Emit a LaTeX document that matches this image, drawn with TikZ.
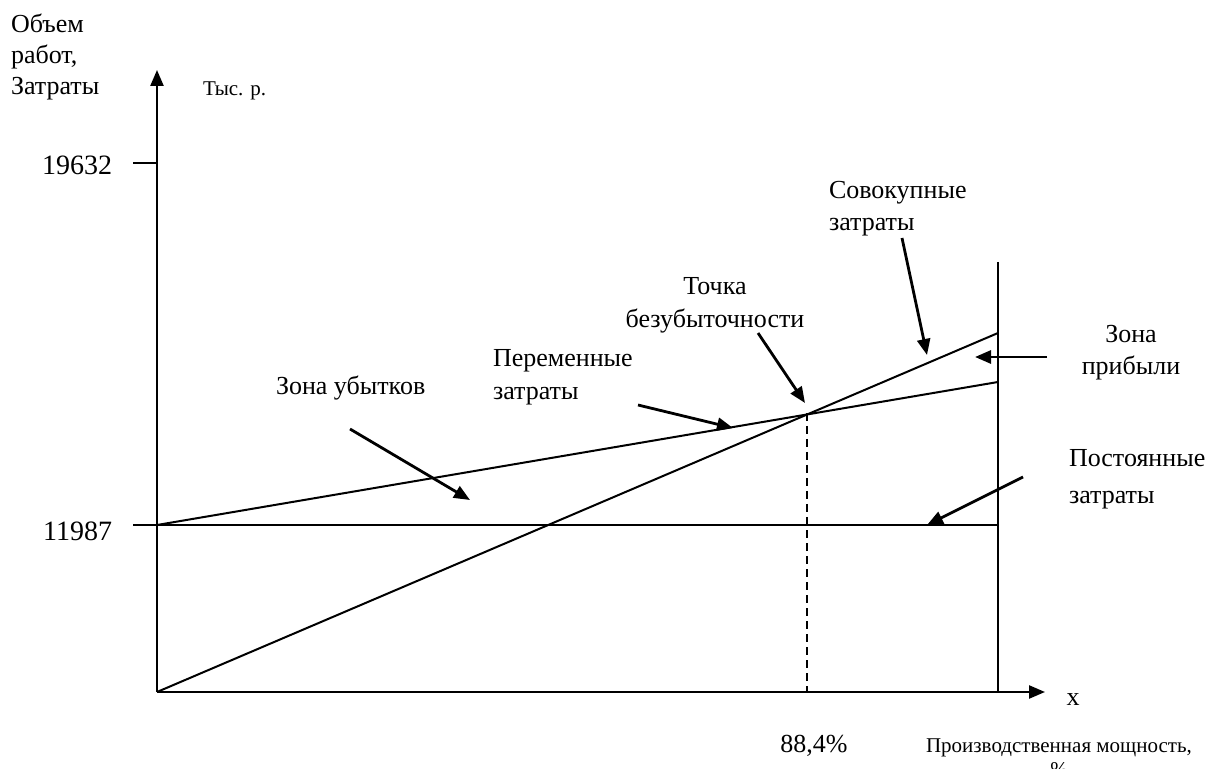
\documentclass[tikz,border=0pt]{standalone}
\usepackage{fontspec}
\setmainfont{Liberation Serif}
\usetikzlibrary{arrows.meta}

\begin{document}
\begin{tikzpicture}[x=0.5pt,y=-0.5pt,line width=1pt,
  lbl/.style={font=\fontsize{13}{16}\selectfont,inner sep=0pt},
  small/.style={font=\fontsize{10.5}{12}\selectfont,inner sep=0pt},
  pointer/.style={-{Triangle[length=8pt,width=6.5pt]},line width=1.4pt}]
  \useasboundingbox (0,0) rectangle (1209,769);
  % axes and frame
  \coordinate (O) at (157,692);
  \coordinate (ytop) at (157,70);
  \coordinate (xend) at (1045,692);
  \coordinate (rtop) at (998,262);
  \coordinate (rbot) at (998,692);
  \draw[line width=1.2pt,-{Triangle[length=8pt,width=6.5pt]}] (O) -- (ytop);
  \draw[line width=1.2pt,-{Triangle[length=8pt,width=6.5pt]}] (O) -- (xend);
  \draw (rtop) -- (rbot);
  % cost lines
  \coordinate (fc) at (157,525);
  \coordinate (fcr) at (998,525);
  \coordinate (vcr) at (998,382);
  \coordinate (tcr) at (998,333);
  \coordinate (bep) at (807,413);
  \coordinate (bepx) at (807,692);
  \draw (fc) -- (fcr);
  \draw (fc) -- (vcr);
  \draw (O) -- (tcr);
  \draw[dash pattern=on 4pt off 2.5pt] (bep) -- (bepx);
  % ticks on the y axis
  \foreach \yy/\val in {163/19632,525/11987} {
    \coordinate (tick\val) at (133,\yy);
    \draw (tick\val) -- ++(24,0);
  }
  \node[lbl,anchor=base east,font=\fontsize{14}{16}\selectfont] (v19632) at (113,175) {19632};
  \node[lbl,anchor=base east,font=\fontsize{14}{16}\selectfont] (v11987) at (113,540) {11987};
  % axis labels (base = last line)
  \node[lbl,anchor=base west,align=left,font=\fontsize{13}{15.5}\selectfont] (ylab) at (10,95) {Объем\\работ,\\Затраты};
  \node[small,anchor=base west] (units) at (202,96) {Тыс. р.};
  \node[lbl,anchor=base] (xlab) at (1073,705) {x};
  \node[lbl,anchor=base] (share) at (814,752) {88,4\%};
  \node[small,anchor=base,align=center] (capacity) at (1059,776) {Производственная мощность,\\\%};
  % annotations
  \node[lbl,anchor=base west] (loss) at (275,395) {Зона убытков};
  \node[lbl,anchor=base west,align=left,font=\fontsize{13}{16.5}\selectfont] (varc) at (492,400) {Переменные\\затраты};
  \node[lbl,anchor=base,align=center,font=\fontsize{13}{16.5}\selectfont] (bepl) at (715,328) {Точка\\безубыточности};
  \node[lbl,anchor=base west,align=left] (total) at (828,231) {Совокупные\\затраты};
  \node[lbl,anchor=base,align=center] (profit) at (1131,375) {Зона\\прибыли};
  \node[lbl,anchor=base west,align=left,font=\fontsize{13}{18}\selectfont] (fixc) at (1068,503) {Постоянные\\затраты};
  \coordinate (lossA) at (350,429);   \coordinate (lossB) at (470,500);
  \coordinate (varA) at (638,405);    \coordinate (varB) at (733,428);
  \coordinate (bepA) at (758,333);    \coordinate (bepB) at (805,403);
  \coordinate (totA) at (902,238);    \coordinate (totB) at (927,355);
  \coordinate (profA) at (1047,357);  \coordinate (profB) at (975,357);
  \coordinate (fixA) at (1023,477);   \coordinate (fixB) at (927,525);
  \foreach \p in {loss,var,bep,tot,prof,fix}
    \draw[pointer] (\p A) -- (\p B);
\end{tikzpicture}
\end{document}
